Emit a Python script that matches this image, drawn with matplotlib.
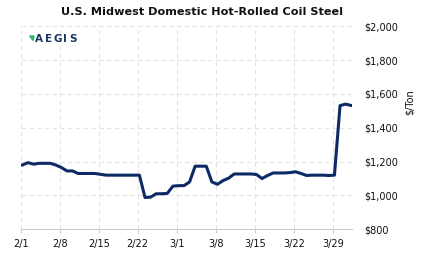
import numpy as np
import pandas as pd
import matplotlib.pyplot as plt
from matplotlib.patches import Polygon

# daily price, 2/1 .. 4/1
prices = [1180, 1194, 1185, 1190, 1190, 1190, 1180, 1165, 1145, 1145,
          1130, 1130, 1130, 1130, 1125, 1120, 1120, 1120, 1120, 1120,
          1120, 1120, 988, 990, 1010, 1010, 1012, 1055, 1058, 1058,
          1080, 1173, 1173, 1173, 1080, 1066, 1088, 1102, 1127, 1127,
          1127, 1127, 1124, 1100, 1118, 1133, 1133, 1133, 1135, 1140,
          1130, 1118, 1120, 1120, 1120, 1118, 1120, 1531, 1540, 1532]
tick_days = [0, 7, 14, 21, 28, 35, 42, 49, 56]
tick_labels = ["2/1", "2/8", "2/15", "2/22", "3/1", "3/8", "3/15", "3/22", "3/29"]
y_ticks = [800, 1000, 1200, 1400, 1600, 1800, 2000]
y_labels = ["$800", "$1,000", "$1,200", "$1,400", "$1,600", "$1,800", "$2,000"]

days = np.arange(len(prices)) + 0.3

fig = plt.figure(figsize=(4.23, 2.57), dpi=100)
ax = fig.add_axes([0.049, 0.1078, 0.7825, 0.7899])

ax.plot(days, prices, color="#0c2a66", lw=2.2, solid_joinstyle="round", zorder=3)

ax.set_xlim(0, 59.4)
ax.set_ylim(800, 2000)
ax.set_xticks(tick_days)
ax.set_xticklabels(tick_labels, fontsize=7, color="#111111")
ax.yaxis.tick_right()
ax.set_yticks(y_ticks)
ax.set_yticklabels(y_labels, fontsize=7, color="#111111")
ax.tick_params(axis="y", length=0, pad=9)
ax.tick_params(axis="x", length=3, color="#cccccc", pad=4)

ax.grid(True, color="#e3e3e3", linestyle=(0, (4, 3)), lw=0.8)
for s in ["top", "right", "left"]:
    ax.spines[s].set_visible(False)
ax.spines["bottom"].set_color("#cccccc")

fig.text(202 / 423, 1 - 12 / 257, "U.S. Midwest Domestic Hot-Rolled Coil Steel",
         ha="center", va="center", fontsize=8.1, fontweight="bold", color="#111111")
fig.text(410 / 423, 1 - 102 / 257, "$/Ton", rotation=90, ha="center", va="center",
         fontsize=7, color="#111111")

# logo
tri = Polygon([[29.7 / 423, 1 - 36 / 257], [34 / 423, 1 - 36 / 257], [33 / 423, 1 - 40.5 / 257]],
              closed=True, color="#2bb673", transform=fig.transFigure)
fig.patches.append(tri)
for ch, cx in zip("AEGIS", [39, 48.3, 57.3, 64.5, 72.7]):
    fig.text(cx / 423, 1 - 38.7 / 257, ch, ha="center", va="center", fontsize=7.5,
             fontweight="bold", color="#1d3461")

fig.savefig("out.png", dpi=100)
